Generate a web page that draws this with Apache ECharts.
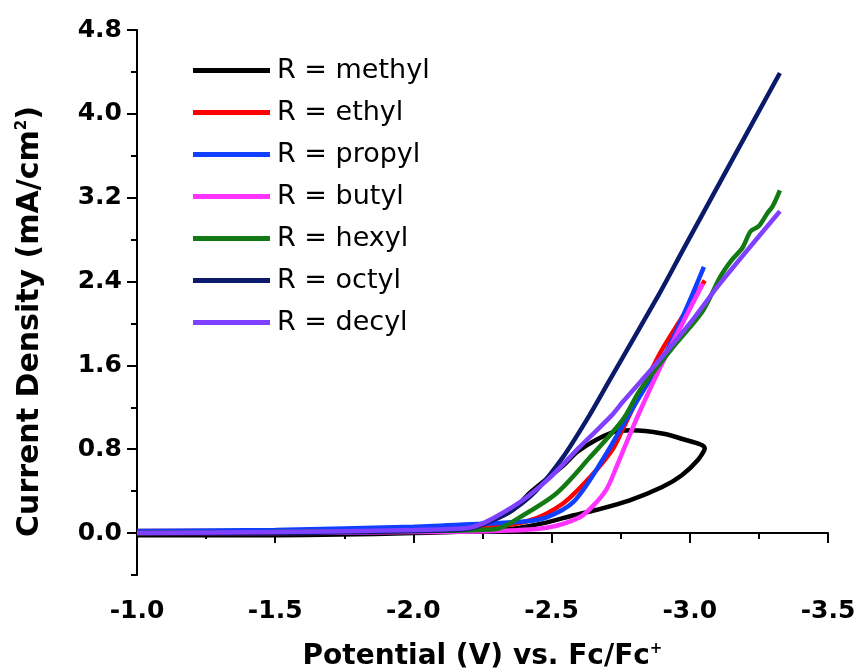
<!DOCTYPE html>
<html>
<head>
<meta charset="utf-8">
<title>CV curves, R = methyl ... decyl</title>
<script src="https://cdn.jsdelivr.net/npm/echarts@6/dist/echarts.min.js"></script>
<style>
  html, body { margin: 0; padding: 0; background: #fff; }
  #chart { width: 858px; height: 671px; }
</style>
</head>
<body>
<div id="chart"></div>
<script>
// values: potential (V vs Fc/Fc+) and current density (mA/cm2)
const seriesNames = ["R = methyl", "R = ethyl", "R = propyl", "R = butyl", "R = hexyl", "R = octyl", "R = decyl"];
const seriesColors = ["#000000", "#ff0000", "#1040ff", "#ff33ff", "#137a13", "#0c1a6b", "#7f40ff"];

// methyl: forward scan then the return branch (the only visible loop)
const potentialMethyl = [-1.0, -1.5, -2.0, -2.2, -2.286, -2.36, -2.42, -2.54, -2.60, -2.72, -2.79, -2.90, -2.97, -3.054,
  -3.03, -2.97, -2.90, -2.78, -2.66, -2.58, -2.48, -2.35, -2.0, -1.5, -1.0];
const currentMethyl = [0.0, 0.0, 0.01, 0.04, 0.12, 0.22, 0.38, 0.64, 0.79, 0.96, 0.98, 0.95, 0.90, 0.81,
  0.70, 0.55, 0.44, 0.31, 0.22, 0.17, 0.10, 0.04, 0.0, -0.02, -0.02];

const potentialEthyl = [-1.0, -1.5, -2.0, -2.25, -2.42, -2.54, -2.638, -2.721, -2.757, -2.891, -2.97, -3.054];
const currentEthyl = [0.02, 0.02, 0.03, 0.05, 0.12, 0.28, 0.53, 0.80, 0.99, 1.71, 2.05, 2.41];

const potentialPropyl = [-1.0, -1.5, -2.0, -2.25, -2.40, -2.482, -2.58, -2.68, -2.80, -2.917, -3.0, -3.051];
const currentPropyl = [0.02, 0.03, 0.06, 0.09, 0.11, 0.15, 0.30, 0.68, 1.22, 1.74, 2.22, 2.54];

const potentialButyl = [-1.0, -1.5, -2.0, -2.3, -2.482, -2.601, -2.65, -2.699, -2.736, -2.772, -2.819, -2.902, -2.975, -3.047];
const currentButyl = [0.0, 0.0, 0.01, 0.02, 0.05, 0.15, 0.26, 0.42, 0.64, 0.87, 1.16, 1.63, 2.01, 2.38];

const potentialHexyl = [-1.0, -1.5, -2.0, -2.3, -2.384, -2.518, -2.638, -2.757, -2.819, -2.938, -3.047, -3.109,
  -3.15, -3.19, -3.22, -3.25, -3.28, -3.30, -3.326];
const currentHexyl = [0.0, 0.01, 0.02, 0.04, 0.15, 0.38, 0.72, 1.08, 1.36, 1.77, 2.12, 2.44,
  2.60, 2.72, 2.88, 2.93, 3.05, 3.12, 3.27];

const potentialOctyl = [-1.0, -1.5, -2.0, -2.2, -2.286, -2.359, -2.446, -2.54, -2.627, -2.71, -2.891, -2.975, -3.062, -3.326];
const currentOctyl = [0.0, 0.0, 0.02, 0.04, 0.12, 0.22, 0.41, 0.72, 1.08, 1.46, 2.29, 2.70, 3.12, 4.39];

const potentialDecyl = [-1.0, -1.5, -2.0, -2.2, -2.359, -2.482, -2.601, -2.64, -2.72, -2.757, -2.88, -3.0, -3.109, -3.326];
const currentDecyl = [0.0, 0.01, 0.03, 0.05, 0.25, 0.50, 0.82, 0.92, 1.13, 1.25, 1.62, 2.0, 2.38, 3.07];

const potentials = [potentialMethyl, potentialEthyl, potentialPropyl, potentialButyl, potentialHexyl, potentialOctyl, potentialDecyl];
const currents = [currentMethyl, currentEthyl, currentPropyl, currentButyl, currentHexyl, currentOctyl, currentDecyl];

const yMajorTicks = [0, 0.8, 1.6, 2.4, 3.2, 4.0, 4.8];

const chart = echarts.init(document.getElementById("chart"));
const font = "'DejaVu Sans', Arial, sans-serif";
const black = { color: "#000", width: 2 };
const supStyle = { fontFamily: font, fontSize: 15, fontWeight: "bold", color: "#000", verticalAlign: "top", padding: [0, 0, 14, 0] };

chart.setOption({
  animation: false,
  textStyle: { fontFamily: font },
  // v6 would otherwise shrink the grid to keep the axis names inside the canvas
  grid: { left: 137, right: 30, top: 30, bottom: 96, containLabel: false, outerBoundsMode: "none" },
  legend: {
    left: 188, top: 50, orient: "vertical",
    itemWidth: 77, itemHeight: 5, itemGap: 11,
    icon: "rect",
    textStyle: { fontFamily: font, fontSize: 27, color: "#000", lineHeight: 31, padding: [0, 0, 0, 2] },
    data: seriesNames,
  },
  xAxis: {
    type: "value", inverse: true, min: -3.5, max: -1.0, interval: 0.5,
    name: "Potential (V) vs. Fc/Fc{sup|+}", nameLocation: "middle", nameGap: 67,
    nameTextStyle: { fontFamily: font, fontSize: 28, fontWeight: "bold", color: "#000", rich: { sup: supStyle } },
    axisLine: { lineStyle: black },
    axisTick: { length: 10, lineStyle: black },
    minorTick: { show: true, splitNumber: 2, length: 6, lineStyle: black },
    axisLabel: { fontSize: 25, fontWeight: "bold", color: "#000", margin: 24, formatter: (v) => v.toFixed(1) },
    splitLine: { show: false },
  },
  yAxis: [
    {
      type: "value", min: -0.4, max: 4.8, interval: 0.4,
      name: "Current Density (mA/cm{sup|2})", nameLocation: "middle", nameGap: 92, nameRotate: 90,
      nameTextStyle: {
        fontFamily: font, fontSize: 30, fontWeight: "bold", color: "#000",
        padding: [0, 38, 0, 0],
        rich: { sup: supStyle },
      },
      axisLine: { show: true, lineStyle: black },
      axisTick: { length: 6, lineStyle: black },
      axisLabel: {
        fontSize: 25, fontWeight: "bold", color: "#000", margin: 15,
        formatter: (v) => (Math.round(v * 10) % 8 === 0 ? v.toFixed(1) : ""),
      },
      splitLine: { show: false },
    },
    {
      type: "value", min: -0.4, max: 4.8, position: "left",
      axisLine: { show: false },
      axisTick: { show: true, length: 10, lineStyle: black, customValues: yMajorTicks },
      axisLabel: { show: false },
      splitLine: { show: false },
    },
  ],
  series: seriesNames.map((name, i) => ({
    name, type: "line", symbol: "none", smooth: 0.3,
    data: potentials[i].map((v, k) => [v, currents[i][k]]),
    lineStyle: { color: seriesColors[i], width: 4.5 },
    itemStyle: { color: seriesColors[i] },
  })),
});
</script>
</body>
</html>
